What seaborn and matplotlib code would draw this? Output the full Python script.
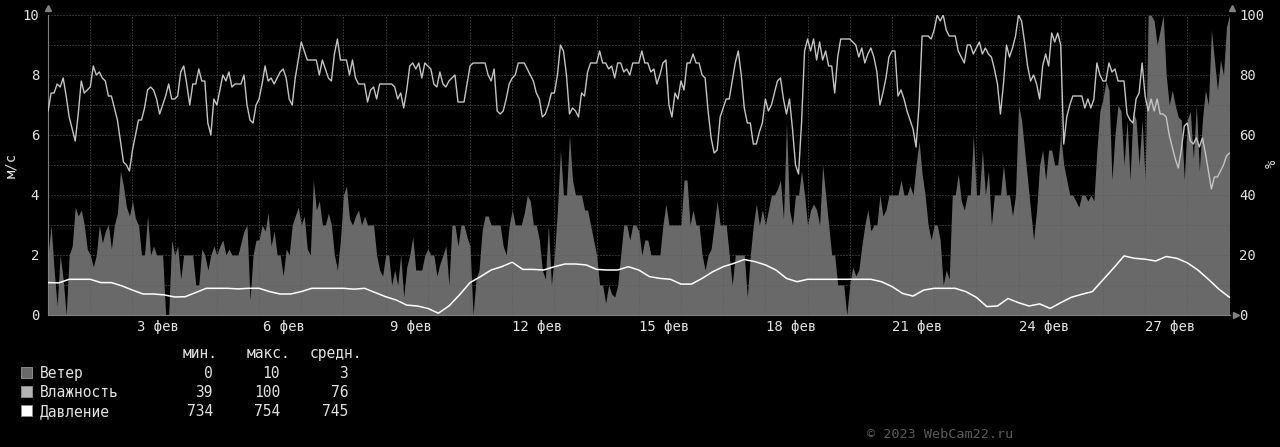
import matplotlib
matplotlib.use("Agg")
import matplotlib.pyplot as plt
from matplotlib.patches import Rectangle
import seaborn as sns
import numpy as np
import pandas as pd

# --- data ---
# wind, m/s: 14 samples per day, Feb 1 .. Mar 1
wind_ms = [
    2, 3, 1.5, 0.3, 2, 1.2, 0, 2, 2.3, 3.6, 3.3, 3.5, 3, 2.2,
    2, 1.6, 2, 3, 2.4, 2.8, 3, 2.2, 3, 3.4, 4.8, 4.3, 3.6, 3.3,
    3.8, 3.2, 3, 2, 2, 3.3, 2, 2.3, 2, 2, 2, 0, 0, 2.5,
    2, 2.3, 1.2, 2, 2, 2, 2, 1, 1, 2.2, 2, 1.5, 2, 2.3,
    2, 2.3, 2.5, 2, 2.2, 2, 2, 2, 2.4, 2.8, 3, 0.5, 2, 2.5,
    2.5, 3, 2.8, 3.4, 2.3, 2.8, 2, 2, 1.3, 2.2, 2, 3, 3.3, 3.6,
    3, 3.3, 2.2, 2, 4.5, 3.5, 3.8, 3, 3, 3.4, 3, 2, 1.5, 2.5,
    4, 4.3, 3.2, 3, 3.3, 3.5, 3, 3.3, 3, 3, 3, 2, 1.5, 1.3,
    2, 2, 1, 1.5, 1, 2, 0.6, 1.6, 2, 2.6, 1.5, 1.5, 1.5, 2,
    2.2, 2, 2, 1.3, 1.7, 2, 2.3, 1, 3, 3, 2.3, 3, 3, 2.6,
    2.3, 0, 1.2, 1.5, 2.8, 3.3, 3.3, 3, 3, 3, 3, 2.3, 2, 3,
    3.5, 3, 3, 3, 3.4, 4, 3.8, 3, 3, 2.5, 1.5, 1.2, 3, 1,
    2, 3.5, 5.5, 4, 4, 6, 4.5, 4, 4, 4, 3.5, 3.5, 3, 2.5,
    2, 1, 1, 0.4, 1, 0.7, 0.6, 1, 2, 3, 3, 2.5, 3, 3,
    2.8, 2, 2.5, 2.5, 2, 2, 2, 2, 3, 3.7, 3, 3, 3, 3,
    3, 4.5, 4.5, 3, 3.5, 3, 3, 2, 1.5, 2, 2.2, 3, 3.8, 3,
    3, 3, 2, 1, 2, 2, 2, 2, 0.6, 2, 3, 3.7, 3, 3.5,
    3, 3.5, 4, 4, 4.2, 4.5, 3.2, 6.4, 3.5, 3, 4, 4, 4.8, 4,
    3, 3.5, 3.7, 3.5, 3, 5, 4, 3, 2, 2, 1, 1, 1, 0,
    1, 1.6, 1.3, 1.5, 2.3, 3, 3.5, 2.8, 3, 3, 4, 3.3, 3.5, 4,
    4, 4, 4, 4.5, 4, 4, 4.3, 4, 5, 5.8, 4.7, 4, 3, 2.5,
    3, 3, 2.5, 1, 1.5, 1.2, 4, 4, 4.7, 3.8, 3.5, 4, 4, 6,
    4, 4, 5.5, 4, 4.8, 3, 4, 4, 4, 5, 4, 4, 3.3, 4,
    7, 6.5, 5.5, 4.5, 3.5, 2.5, 3.5, 5, 5.5, 4.5, 5.5, 5.5, 5, 5,
    6, 5, 4.5, 4, 4, 3.8, 3.6, 4, 4, 3.8, 4, 3.8, 5.5, 6.8,
    7.2, 7.8, 7.5, 4.5, 6, 7, 6.8, 5, 6.5, 4.5, 6.8, 6.5, 5, 6.5,
    4.5, 10, 10, 9.8, 9, 9.5, 10, 8, 7, 7.5, 7, 6.6, 6.5, 4.5,
    6.5, 6.8, 5.2, 7, 4.8, 6.5, 7.5, 7, 9.5, 8.5, 7.5, 8.5, 8, 9.6,
    10,
]

# humidity, %: same time steps as wind
humidity_pct = [
    68, 74, 74, 77, 76, 79, 73, 66, 62, 58, 67, 78, 74, 75,
    76, 83, 80, 81, 79, 78, 73, 73, 69, 65, 58, 51, 50, 48,
    55, 60, 65, 65, 69, 75, 76, 75, 72, 67, 70, 73, 77, 72,
    72, 73, 81, 83, 77, 70, 77, 77, 82, 78, 78, 64, 60, 72,
    70, 75, 80, 78, 81, 76, 77, 77, 77, 80, 70, 65, 64, 70,
    72, 77, 83, 78, 79, 77, 79, 81, 82, 79, 72, 70, 79, 85,
    91, 88, 85, 85, 85, 85, 80, 85, 82, 79, 78, 87, 92, 85,
    85, 85, 80, 85, 79, 77, 77, 77, 71, 75, 76, 72, 77, 77,
    77, 77, 77, 76, 72, 74, 69, 75, 83, 84, 82, 84, 79, 84,
    83, 82, 77, 76, 81, 77, 76, 78, 79, 80, 71, 71, 71, 77,
    83, 84, 84, 84, 84, 84, 80, 78, 82, 68, 67, 68, 72, 77,
    79, 80, 84, 84, 84, 82, 80, 78, 74, 72, 66, 67, 70, 74,
    74, 80, 90, 88, 80, 67, 69, 68, 66, 74, 73, 81, 84, 84,
    84, 88, 84, 84, 82, 83, 79, 84, 84, 81, 82, 80, 84, 84,
    84, 88, 84, 84, 81, 82, 77, 80, 84, 85, 70, 66, 74, 72,
    78, 75, 84, 84, 87, 84, 84, 80, 79, 68, 59, 54, 55, 66,
    69, 72, 72, 78, 84, 88, 80, 69, 64, 64, 57, 57, 61, 64,
    72, 68, 70, 74, 78, 79, 72, 67, 72, 62, 50, 47, 64, 88,
    92, 88, 92, 85, 91, 85, 88, 83, 83, 74, 86, 92, 92, 92,
    92, 91, 90, 86, 89, 84, 87, 89, 86, 81, 70, 74, 79, 86,
    88, 88, 73, 75, 72, 68, 65, 62, 56, 70, 93, 93, 93, 92,
    95, 100, 98, 100, 95, 93, 93, 93, 88, 86, 84, 90, 90, 87,
    89, 91, 87, 89, 87, 86, 82, 77, 67, 77, 90, 86, 89, 93,
    100, 98, 91, 83, 78, 80, 77, 72, 83, 87, 83, 94, 91, 94,
    90, 57, 66, 70, 73, 73, 73, 73, 69, 72, 69, 72, 84, 80,
    78, 78, 84, 81, 82, 78, 78, 78, 67, 65, 64, 72, 74, 84,
    73, 68, 72, 68, 72, 67, 67, 66, 60, 56, 52, 49, 55, 63,
    64, 58, 57, 59, 56, 59, 54, 48, 42, 46, 46, 48, 50, 53,
    54,
]

# pressure, mm Hg: 4 samples per day
pressure_mm = [
    744.3, 744.2, 745.4, 745.4,
    745.4, 744.3, 744.3, 743.2,
    741.8, 740.5, 740.5, 740.2,
    739.5, 739.6, 741.0, 742.4,
    742.4, 742.4, 742.2, 742.4,
    742.4, 741.3, 740.5, 740.5,
    741.3, 742.4, 742.4, 742.4,
    742.4, 742.1, 742.4, 741.0,
    739.6, 738.5, 736.8, 736.5,
    735.7, 734.1, 736.5, 740.2,
    744.3, 746.3, 748.5, 749.6,
    751.1, 748.7, 748.7, 748.5,
    749.6, 750.5, 750.5, 750.2,
    748.7, 748.5, 748.5, 749.6,
    748.5, 746.3, 745.7, 745.4,
    743.8, 743.8, 745.7, 747.9,
    749.6, 750.7, 752.0, 751.3,
    750.2, 748.5, 745.7, 744.6,
    745.4, 745.4, 745.4, 745.4,
    745.4, 745.4, 745.4, 744.6,
    743.0, 740.7, 739.8, 741.8,
    742.4, 742.4, 742.4, 741.3,
    739.4, 736.3, 736.5, 739.0,
    737.6, 736.5, 737.2, 735.7,
    737.6, 739.4, 740.4, 741.3,
    745.2, 749.1, 753.2, 752.4,
    752.1, 751.5, 753.0, 752.4,
    750.9, 748.5, 745.4, 742.1,
    739.4,
]

label_days = [2, 5, 8, 11, 14, 17, 20, 23, 26]
date_labels = ["3 фев", "6 фев", "9 фев", "12 фев", "15 фев",
               "18 фев", "21 фев", "24 фев", "27 фев"]

legend_names = ["Ветер", "Влажность", "Давление"]
stat_min = [0, 39, 734]
stat_max = [10, 100, 754]
stat_avg = [3, 76, 745]

# --- style ---
W, H = 1280, 447
BG = "#000000"
TXT = "#e2e2e2"
WIND_C = "#696969"
HUM_C = "#c4c4c4"
PRES_C = "#ffffff"
AX_C = "#808080"

sns.set_theme(style="dark")
plt.rcParams["font.family"] = ["DejaVu Sans Mono", "DejaVu Sans"]
plt.rcParams["axes.unicode_minus"] = False

wind_df = pd.DataFrame({"day": np.arange(len(wind_ms)) / 14, "wind": wind_ms})
hum_df = pd.DataFrame({"day": np.arange(len(humidity_pct)) / 14,
                       "level": np.array(humidity_pct) / 10})
pres_df = pd.DataFrame({"day": np.arange(len(pressure_mm)) / 4,
                        "level": (np.array(pressure_mm) - 733.5) / 10})

fig = plt.figure(figsize=(W / 100, H / 100), dpi=100, facecolor=BG)
left, right, top, bottom = 48.1, 1229.5, 15, 315
ax = fig.add_axes([left / W, (H - bottom) / H, (right - left) / W, (bottom - top) / H])
ax.set_facecolor(BG)

ax.fill_between(wind_df["day"], wind_df["wind"], color=WIND_C, lw=0, zorder=1)
sns.lineplot(data=hum_df, x="day", y="level", ax=ax, color=HUM_C, lw=1.0, zorder=3)
sns.lineplot(data=pres_df, x="day", y="level", ax=ax, color=PRES_C, lw=1.1, zorder=4)

ax.set_xlim(0, 28)
ax.set_ylim(0, 10)
ax.set_xlabel("")
ax.set_ylabel("")

# grid: dotted, every day / every unit
ax.set_axisbelow("line")
ax.set_xticks(np.arange(0, 29))
ax.set_yticks(np.arange(0, 11))
ax.grid(True, which="major", color="#5c5c5c", lw=0.72, ls=(0, (1, 2)))
ax.set_xticklabels([])
ax.set_yticklabels(["0", "", "2", "", "4", "", "6", "", "8", "", "10"])
ax.tick_params(axis="x", which="major", length=2.5, width=0.7, color=AX_C, direction="out")
ax.tick_params(axis="y", which="major", length=0, pad=6.5, labelsize=10, labelcolor=TXT)
ax.set_xticks([d + 0.6 for d in label_days], date_labels, minor=True)
ax.tick_params(axis="x", which="minor", length=0, pad=3.5, labelsize=10, labelcolor=TXT)

for side in ["top", "right"]:
    ax.spines[side].set_visible(False)
for side in ["left", "bottom"]:
    ax.spines[side].set_color(AX_C)
    ax.spines[side].set_linewidth(0.8)

# small arrow heads at the ends of the axes
ax.plot([0], [10.22], marker="^", ms=4, color=AX_C, clip_on=False)
ax.plot([28.07], [10.22], marker="^", ms=4, color=AX_C, clip_on=False)
ax.plot([28.15], [0], marker=">", ms=4, color=AX_C, clip_on=False)

sec = ax.secondary_yaxis("right", functions=(lambda v: v * 10, lambda h: h / 10))
sec.set_yticks([0, 20, 40, 60, 80, 100])
sec.tick_params(length=0, pad=7, labelsize=10, labelcolor=TXT)
sec.spines["right"].set_visible(False)

fig.text(11 / W, (H - 165) / H, "м/с", rotation=90, color=TXT, fontsize=10,
         ha="center", va="center")
fig.text(1272 / W, (H - 164) / H, "%", rotation=90, color=TXT, fontsize=10,
         ha="center", va="center")

# legend table
FS = 10.5
def px(x, y):
    return x / W, (H - y) / H

fig.text(*px(183, 358), "мин.", color=TXT, fontsize=FS, va="baseline")
fig.text(*px(247, 358), "макс.", color=TXT, fontsize=FS, va="baseline")
fig.text(*px(310, 358), "средн.", color=TXT, fontsize=FS, va="baseline")

swatch = [WIND_C, "#b4b4b4", "#ffffff"]
for i, name in enumerate(legend_names):
    base = 378 + 19 * i
    fig.add_artist(Rectangle(px(21, base), 11 / W, 11 / H, transform=fig.transFigure,
                             facecolor=swatch[i], edgecolor="#8a8a8a", lw=0.7))
    fig.text(*px(40, base), name, color=TXT, fontsize=FS, va="baseline")
    fig.text(*px(213, base), str(stat_min[i]), color=TXT, fontsize=FS, va="baseline", ha="right")
    fig.text(*px(280, base), str(stat_max[i]), color=TXT, fontsize=FS, va="baseline", ha="right")
    fig.text(*px(348, base), str(stat_avg[i]), color=TXT, fontsize=FS, va="baseline", ha="right")

fig.text(*px(867, 438), "© 2023 WebCam22.ru", color="#5a5a5a", fontsize=9.7, va="baseline")

fig.savefig("out.png", dpi=100, facecolor=BG)
